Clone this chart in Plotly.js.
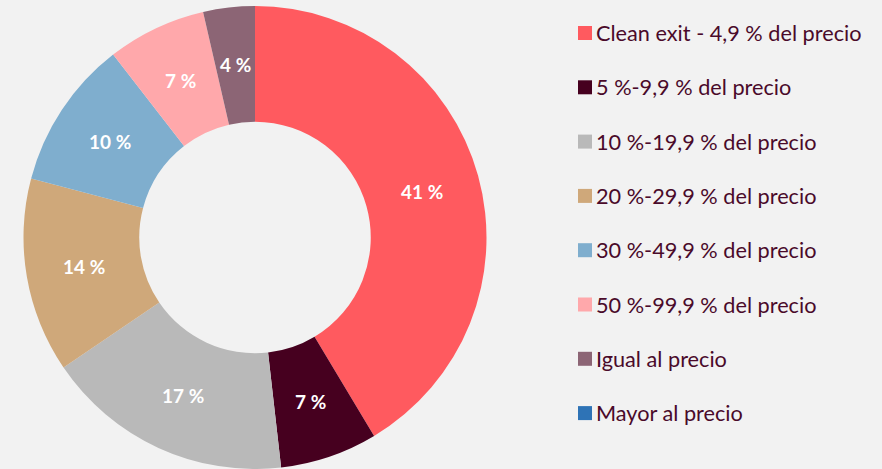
<!DOCTYPE html>
<html>
<head>
<meta charset="utf-8">
<script src="https://cdn.plot.ly/plotly-3.0.1.min.js"></script>
<style>html,body{margin:0;padding:0;background:#F2F2F2;}#chart{width:882px;height:469px;}</style>
</head>
<body>
<div id="chart"></div>
<script>
const categories = [
  "Clean exit - 4,9 % del precio",
  "5 %-9,9 % del precio",
  "10 %-19,9 % del precio",
  "20 %-29,9 % del precio",
  "30 %-49,9 % del precio",
  "50 %-99,9 % del precio",
  "Igual al precio",
  "Mayor al precio"
];
const shares = [41.4, 6.8, 17.3, 13.6, 10.4, 6.9, 3.6, 0];
const sliceColors = ["#FF5A5F", "#46001F", "#B9B9B9", "#CFA87A", "#7FAECE", "#FFA8AB", "#8C6575", "#2E73B6"];

const textColor = "#4A0A2A";
const fontFamily = "Lato, 'Open Sans', sans-serif";

const W = 882, H = 469;
const domX = [0.02664, 0.55159], domY = [0, 0.98721];
const holeFrac = 0.5;

const trace = {
  type: "pie",
  labels: categories,
  values: shares,
  marker: {colors: sliceColors, line: {width: 0}},
  hole: holeFrac,
  sort: false,
  direction: "clockwise",
  rotation: 0,
  textinfo: "none",
  showlegend: false,
  domain: {x: domX, y: domY},
  hoverinfo: "label+percent"
};

const annotations = [], shapes = [];

// slice labels at mid-ring, mid-angle of each slice (from the data)
const total = shares.reduce((a, b) => a + b, 0);
const cx = (domX[0] + domX[1]) / 2 * W;
const cy = (domY[0] + domY[1]) / 2 * H;
const R = Math.min((domX[1] - domX[0]) * W, (domY[1] - domY[0]) * H) / 2;
const rMid = R * (1 + holeFrac) / 2;
let cum = 0;
shares.forEach((v, i) => {
  const mid = (cum + v / 2) / total * 2 * Math.PI;
  cum += v;
  if (v <= 0) return;
  const px = cx + rMid * Math.sin(mid);
  const py = cy + rMid * Math.cos(mid);
  annotations.push({
    xref: "paper", yref: "paper", x: px / W, y: py / H,
    xanchor: "center", yanchor: "middle", showarrow: false,
    text: Math.round(v) + " %",
    font: {family: fontFamily, size: 19, color: "#FFFFFF", weight: 700}
  });
});

// legend built from categories
const legendTop = 33, legendStep = 54.3;
categories.forEach((c, i) => {
  const yc = 1 - (legendTop + i * legendStep) / H;
  annotations.push({
    xref: "paper", yref: "paper", x: 594 / W, y: yc,
    xanchor: "left", yanchor: "middle", showarrow: false,
    text: c, font: {family: fontFamily, size: 21.7, color: textColor}
  });
  shapes.push({
    type: "rect", xref: "paper", yref: "paper",
    x0: 578 / W, x1: 592 / W,
    y0: yc - 7 / H, y1: yc + 7 / H,
    fillcolor: sliceColors[i], line: {width: 0}
  });
});

const layout = {
  width: W, height: H,
  margin: {l: 0, r: 0, t: 0, b: 0},
  paper_bgcolor: "#F2F2F2",
  plot_bgcolor: "#F2F2F2",
  showlegend: false,
  annotations: annotations,
  shapes: shapes
};

Plotly.newPlot("chart", [trace], layout, {displayModeBar: false, staticPlot: true});
</script>
</body>
</html>
